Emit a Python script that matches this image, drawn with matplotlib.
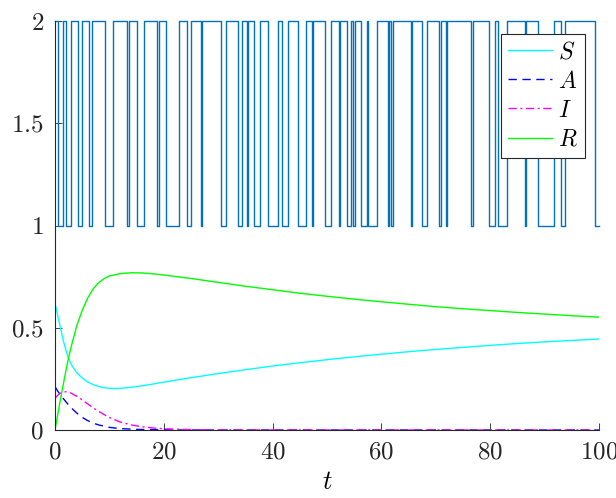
import matplotlib
matplotlib.use("Agg")
import matplotlib.pyplot as plt

plt.rcParams['mathtext.fontset'] = 'cm'
plt.rcParams['font.family'] = 'serif'
plt.rcParams['font.serif'] = ['cmr10', 'DejaVu Serif']
plt.rcParams['axes.formatter.use_mathtext'] = True

# switching signal: times of changes and the level after each change
switch_t = [0, 0.55, 1.41, 2.02, 2.88, 4.29, 4.90, 6.31, 6.74, 9.19, 10.72,
            13.17, 13.54, 15.13, 16.36, 18.69, 19.18, 20.34, 22.73, 24.2, 25.0,
            26.9, 27.1, 30.5, 31.4, 33.6, 34.3, 35.35, 35.5, 36.5, 37.6, 39.2,
            41.05, 41.7, 42.8, 44.6, 46.1, 47.3, 47.45, 49.6, 50.7, 52.2, 52.35,
            53.7, 54.35, 54.85, 55.15, 56.2, 57.3, 57.5, 59.25, 61.27, 61.46,
            61.7, 62.2, 65.5, 65.65, 67.4, 68.3, 70.5, 70.9, 71.95, 72.1, 76.5,
            76.9, 79.8, 80.9, 81.4, 83.0, 86.35, 86.5, 88.7, 91.8, 93.0, 93.75,
            99.25, 100]
switch_lvl = [2, 1, 2, 1, 2, 1, 2, 1, 2, 1, 2,
              1, 2, 1, 2, 1, 2, 1, 2, 1, 2,
              1, 2, 1, 2, 1, 2, 1, 2, 1, 2, 1,
              2, 1, 2, 1, 2, 1, 2, 1, 2, 1, 2,
              1, 2, 1, 2, 1, 2, 1, 2, 1, 2,
              1, 2, 1, 2, 1, 2, 1, 2, 1, 2, 1,
              2, 1, 2, 1, 2, 1, 2, 1, 2, 1, 2,
              1, 1]

# S
t_S = [0, 0.5, 1, 1.5, 2, 2.5, 3, 4, 5, 6, 7, 8, 9, 10, 11, 12, 14, 16, 18, 20,
       25, 30, 35, 40, 45, 50, 55, 60, 65, 70, 75, 80, 85, 90, 95, 100]
S = [0.62, 0.56, 0.50, 0.44, 0.39, 0.35, 0.32, 0.28, 0.255, 0.235, 0.222, 0.213,
     0.207, 0.204, 0.203, 0.204, 0.209, 0.216, 0.225, 0.234, 0.256, 0.276,
     0.295, 0.313, 0.329, 0.344, 0.358, 0.371, 0.383, 0.394, 0.404, 0.414,
     0.423, 0.431, 0.438, 0.445]

# A
t_A = [0, 0.5, 1, 1.5, 2, 3, 4, 5, 6, 7, 8, 10, 12, 15, 20, 25, 100]
A = [0.212, 0.19, 0.172, 0.155, 0.138, 0.108, 0.083, 0.062, 0.046, 0.034,
     0.025, 0.013, 0.007, 0.003, 0.001, 0.0, 0.0]

# I
t_I = [0, 0.5, 1, 1.5, 2, 2.5, 3, 4, 5, 6, 7, 8, 9, 10, 12, 14, 16, 18, 20, 25,
       30, 100]
I = [0.155, 0.17, 0.18, 0.186, 0.187, 0.185, 0.18, 0.165, 0.147, 0.128, 0.109,
     0.092, 0.076, 0.061, 0.039, 0.025, 0.016, 0.010, 0.006, 0.002, 0.0005, 0.0]

# R
t_R = [0, 0.5, 1, 1.5, 2, 2.5, 3, 4, 5, 6, 7, 8, 9, 10, 12, 14, 16, 18, 20, 25,
       30, 35, 40, 45, 50, 55, 60, 65, 70, 75, 80, 85, 90, 95, 100]
R = [0.0, 0.075, 0.15, 0.22, 0.29, 0.355, 0.41, 0.51, 0.585, 0.645, 0.69, 0.72,
     0.74, 0.753, 0.765, 0.769, 0.768, 0.764, 0.758, 0.741, 0.722, 0.703, 0.686,
     0.669, 0.654, 0.64, 0.627, 0.615, 0.603, 0.593, 0.584, 0.575, 0.567,
     0.559, 0.552]

x_ticks = [0, 20, 40, 60, 80, 100]
y_ticks = [0, 0.5, 1, 1.5, 2]
y_tick_labels = ['$0$', '$0.5$', '$1$', '$1.5$', '$2$']

fig = plt.figure(figsize=(6.16, 4.98), dpi=100)
ax = fig.add_axes([0.0893, 0.1365, 0.8831, 0.8213])

ax.step(switch_t, switch_lvl, where='post', color='#0072BD', lw=1.0, clip_on=False)
ax.plot(t_S, S, color='cyan', lw=1.0, label='$S$')
ax.plot(t_A, A, color='blue', lw=1.0, ls=(0, (6, 4)), label='$A$')
ax.plot(t_I, I, color='magenta', lw=1.0, ls=(0, (6, 2.5, 1.5, 2.5)), label='$I$')
ax.plot(t_R, R, color='#00ff00', lw=1.0, label='$R$')

ax.set_xlim(0, 100)
ax.set_ylim(0, 2)
ax.set_xticks(x_ticks)
ax.set_xticklabels(['$%d$' % v for v in x_ticks])
ax.set_yticks(y_ticks)
ax.set_yticklabels(y_tick_labels)
ax.tick_params(direction='in', length=5, width=0.6, color='#262626',
               labelsize=18, labelcolor='#262626', pad=8)
for side in ['top', 'right']:
    ax.spines[side].set_visible(False)
for side in ['left', 'bottom']:
    ax.spines[side].set_color('#262626')
    ax.spines[side].set_linewidth(0.8)

ax.set_xlabel('$t$', fontsize=19, labelpad=5)

leg = ax.legend(loc='upper right', bbox_to_anchor=(0.974, 0.968), fontsize=17,
                frameon=True, fancybox=False, handlelength=1.85,
                borderpad=0.3, labelspacing=0.3, handletextpad=0.25,
                borderaxespad=0)
leg.get_frame().set_edgecolor('#262626')
leg.get_frame().set_linewidth(0.8)
leg.get_frame().set_alpha(1)

fig.savefig('out.png', dpi=100)
